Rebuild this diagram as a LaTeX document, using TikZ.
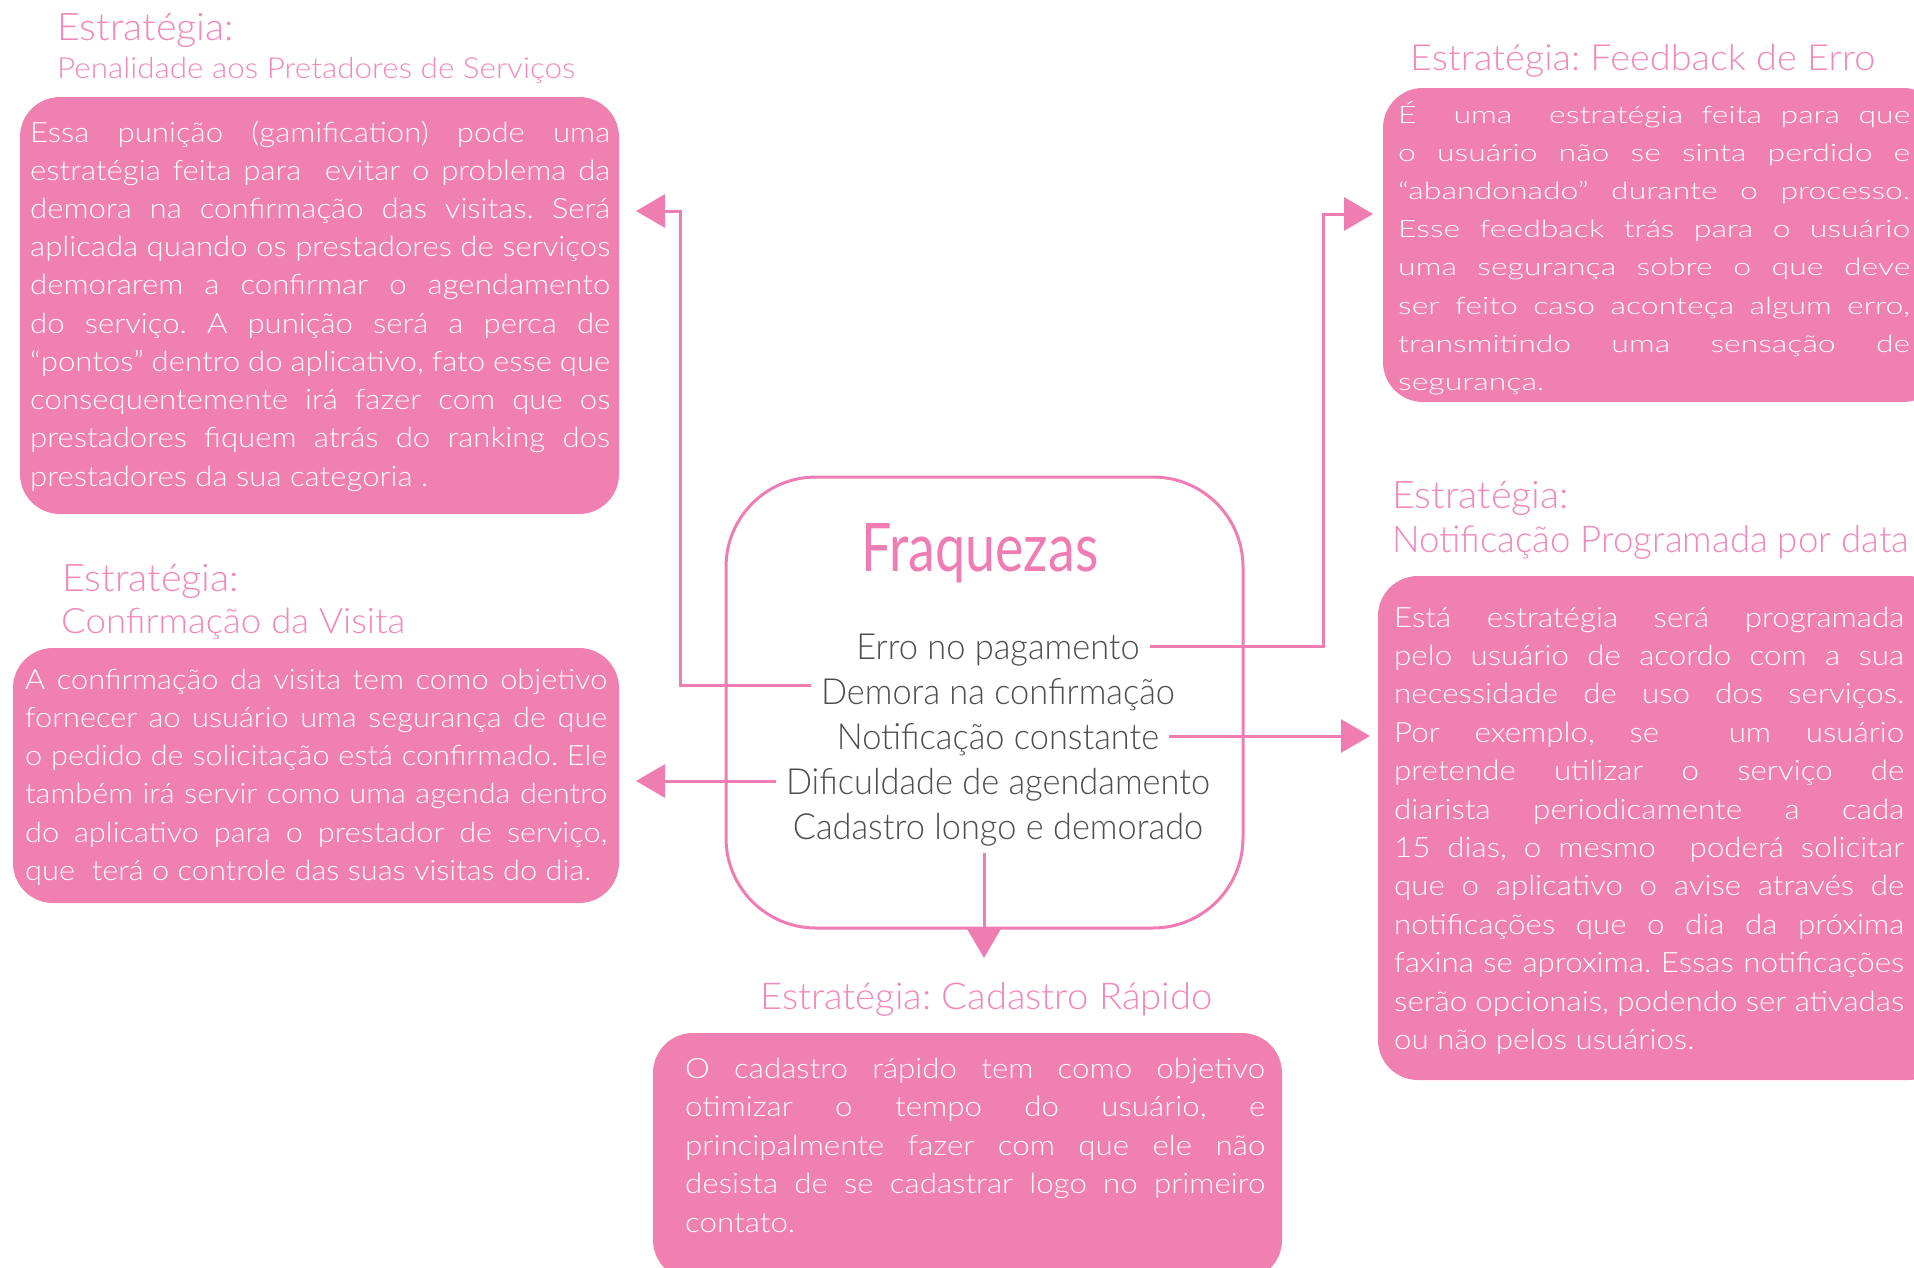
\documentclass[tikz,border=0pt]{standalone}
\usepackage{fontspec}
\usepackage{graphicx}
\usetikzlibrary{arrows.meta}
\IfFontExistsTF{Lato Light}{\newfontfamily\lt{Lato Light}}{\newfontfamily\lt{Lato}}
\newfontfamily\ltr{Lato}
\definecolor{boxpink}{RGB}{240,128,176}
\definecolor{ttlpink}{RGB}{242,135,186}
\definecolor{linepink}{RGB}{240,125,178}
\definecolor{itemgray}{RGB}{78,78,78}
\newdimen\measd
\newsavebox\measbox
\newcommand\calib[3]{\sbox\measbox{#3}\measd=\wd\measbox\pgfmathsetmacro#1{#2/\measd}}
\newcommand\fsA{\lt\fontsize{28}{38}\selectfont}
\newcommand\fsC{\lt\fontsize{24}{38}\selectfont}
\newcommand\fsD{\lt\fontsize{28}{38}\selectfont}
\newcommand\fsT{\lt\fontsize{38}{40}\selectfont}
\newcommand\fsI{\lt\fontsize{36}{40}\selectfont}
\newcommand\fsF{\ltr\fontsize{67}{70}\selectfont}
\AtBeginDocument{%
\frenchspacing
\calib\fA{398}{\fsA prestadores da sua categoria .}%
\calib\fB{566}{\fsA que\ \ terá o controle das suas visitas do dia.}%
\calib\fC{173}{\fsC transmitindo}%
\calib\fD{506}{\fsD faxina se aproxima. Essas notificações}%
\calib\fE{110}{\fsA contato.}%
\calib\fI{424}{\fsI Dificuldade de agendamento}%
\pgfmathsetlengthmacro\WA{580/\fA}%
\pgfmathsetlengthmacro\WB{582/\fB}%
\pgfmathsetlengthmacro\WC{512/\fC}%
\pgfmathsetlengthmacro\WD{510/\fD}%
\pgfmathsetlengthmacro\WE{580/\fE}%
}
\tikzset{
  pinkbox/.style={fill=boxpink, draw=none, rounded corners=40pt, anchor=north west, inner sep=0pt, outer sep=0pt},
  ttl/.style={anchor=base west, inner sep=0pt, text=ttlpink},
  bodytxt/.style={anchor=base west, inner sep=0pt, text=white},
  item/.style={anchor=base, inner xsep=10pt, inner ysep=0pt, text height=26pt, text depth=0pt, font=\fsI, text=itemgray},
  conn/.style={draw=linepink, line width=3pt, -{Triangle[length=29pt,width=33pt]}},
}
\begin{document}
\begin{tikzpicture}[x=1pt,y=-1pt]
\path[use as bounding box] (0,0) rectangle (1914,1267);
\clip (0,0) rectangle (1914,1267);
\fill[white] (0,0) rectangle (1914,1267);

% boxes
\node[pinkbox, minimum width=599pt, minimum height=417pt] (b1) at (20,97) {};
\node[pinkbox, minimum width=606pt, minimum height=255pt] (b2) at (13,648) {};
\node[pinkbox, minimum width=560pt, minimum height=314pt] (b3) at (1383,88) {};
\node[pinkbox, minimum width=570pt, minimum height=504pt] (b4) at (1378,576) {};
\node[pinkbox, minimum width=629pt, minimum height=247pt] (b5) at (653,1033) {};
\node[draw=linepink, line width=3pt, fill=white, rounded corners=90pt, minimum width=517pt, minimum height=451pt, anchor=north west, inner sep=0pt, outer sep=0pt] (fq) at (726,477) {};

% titles
\node[ttl, font=\fsT] (t1a) at (57,40) {\resizebox{177pt}{\height}{Estratégia:}};
\node[ttl, font=\lt\fontsize{29}{30}\selectfont] (t1b) at (57,78) {\resizebox{518pt}{\height}{Penalidade aos Pretadores de Serviços}};
\node[ttl, font=\fsT] (t2a) at (62,591) {\resizebox{177pt}{\height}{Estratégia:}};
\node[ttl, font=\lt\fontsize{35}{36}\selectfont] (t2b) at (61,633) {\resizebox{344pt}{\height}{Confirmação da Visita}};
\node[ttl, font=\lt\fontsize{36}{38}\selectfont] (t3) at (1410,70) {\resizebox{465pt}{\height}{Estratégia: Feedback de Erro}};
\node[ttl, font=\fsT] (t4a) at (1392,508) {\resizebox{177pt}{\height}{Estratégia:}};
\node[ttl, font=\lt\fontsize{37}{38}\selectfont] (t4b) at (1392,552) {\resizebox{517pt}{\height}{Notificação Programada por data}};
\node[ttl, font=\lt\fontsize{37}{38}\selectfont] (t5) at (760,1009) {\resizebox{452pt}{\height}{Estratégia: Cadastro Rápido}};

% center
\node[anchor=base west, inner sep=0pt, font=\fsF, text=linepink] (fqt) at (861,571) {\resizebox{237pt}{\height}{Fraquezas}};
\node[item] (erro) at (998,659) {\scalebox{\fI}[1]{Erro no pagamento}};
\node[item] (demora) at (998,704) {\scalebox{\fI}[1]{Demora na confirmação}};
\node[item] (notif) at (998,749) {\scalebox{\fI}[1]{Notificação constante}};
\node[item] (dific) at (998,794) {\scalebox{\fI}[1]{Dificuldade de agendamento}};
\node[item] (cad) at (998,839) {\scalebox{\fI}[1]{Cadastro longo e demorado}};

% connectors
\coordinate (k1) at (680,211);
\coordinate (tip1) at (636,211);
\coordinate (tip2) at (636,782);
\coordinate (k3) at (1323,214);
\coordinate (tip3) at (1373,214);
\coordinate (tip4) at (1370,737);
\coordinate (dstart) at (984,853);
\coordinate (tip5) at (984,958);
\draw[conn] ([yshift=6pt]demora.west) -| (k1) -- (tip1);
\draw[conn] (dific.west) -- (dific.west -| tip2);
\draw[conn] (erro.east) -| (k3) -- (tip3);
\draw[conn] (notif.east) -- (notif.east -| tip4);
\draw[conn] (dstart) -- (tip5);

% box 1 text
\foreach \t [count=\i] in {
  {Essa punição (gamification) pode uma},
  {estratégia feita para\ \ evitar o problema da},
  {demora na confirmação das visitas. Será},
  {aplicada quando os prestadores de serviços},
  {demorarem a confirmar o agendamento},
  {do serviço. A punição será a perca de},
  {“pontos” dentro do aplicativo, fato esse que},
  {consequentemente irá fazer com que os},
  {prestadores fiquem atrás do ranking dos}}
  \node[bodytxt, font=\fsA] (b1l\i) at (30,{142+(\i-1)*38.2}) {\scalebox{\fA}[1]{\makebox[\WA][s]{\t}}};
\node[bodytxt, font=\fsA] (b1l10) at (30,486) {\scalebox{\fA}[1]{prestadores da sua categoria .}};

% box 2 text
\foreach \t [count=\i] in {
  {A confirmação da visita tem como objetivo},
  {fornecer ao usuário uma segurança de que},
  {o pedido de solicitação está confirmado. Ele},
  {também irá servir como uma agenda dentro},
  {do aplicativo para o prestador de serviço,}}
  \node[bodytxt, font=\fsA] (b2l\i) at (25,{689+(\i-1)*38.3}) {\scalebox{\fB}[1]{\makebox[\WB][s]{\t}}};
\node[bodytxt, font=\fsA] (b2l6) at (25,{689+5*38.3}) {\scalebox{\fB}[1]{que\ \ terá o controle das suas visitas do dia.}};

% box 3 text
\foreach \t [count=\i] in {
  {É\ \ uma\ \ estratégia feita para que},
  {o usuário não se sinta perdido e},
  {“abandonado” durante o processo.},
  {Esse feedback trás para o usuário},
  {uma segurança sobre o que deve},
  {ser feito caso aconteça algum erro,},
  {transmitindo uma sensação de}}
  \node[bodytxt, font=\fsC] (b3l\i) at (1398,{123+(\i-1)*38.2}) {\scalebox{\fC}[1]{\makebox[\WC][s]{\t}}};
\node[bodytxt, font=\fsC] (b3l8) at (1398,{123+7*38.2}) {\scalebox{\fC}[1]{segurança.}};

% box 4 text
\foreach \t [count=\i] in {
  {Está estratégia será programada},
  {pelo usuário de acordo com a sua},
  {necessidade de uso dos serviços.},
  {Por exemplo, se\ \ um usuário},
  {pretende utilizar o serviço de},
  {diarista periodicamente a cada},
  {15 dias, o mesmo\ \ poderá solicitar},
  {que o aplicativo o avise através de},
  {notificações que o dia da próxima},
  {faxina se aproxima. Essas notificações},
  {serão opcionais, podendo ser ativadas}}
  \node[bodytxt, font=\fsD] (b4l\i) at (1394,{627+(\i-1)*38.4}) {\scalebox{\fD}[1]{\makebox[\WD][s]{\t}}};
\node[bodytxt, font=\fsD] (b4l12) at (1394,{627+11*38.4}) {\scalebox{\fD}[1]{ou não pelos usuários.}};

% box 5 text
\foreach \t [count=\i] in {
  {O cadastro rápido tem como objetivo},
  {otimizar o tempo do usuário, e},
  {principalmente fazer com que ele não},
  {desista de se cadastrar logo no primeiro}}
  \node[bodytxt, font=\fsA] (b5l\i) at (685,{1078+(\i-1)*38.5}) {\scalebox{\fE}[1]{\makebox[\WE][s]{\t}}};
\node[bodytxt, font=\fsA] (b5l5) at (685,{1078+4*38.5}) {\scalebox{\fE}[1]{contato.}};
\end{tikzpicture}
\end{document}
